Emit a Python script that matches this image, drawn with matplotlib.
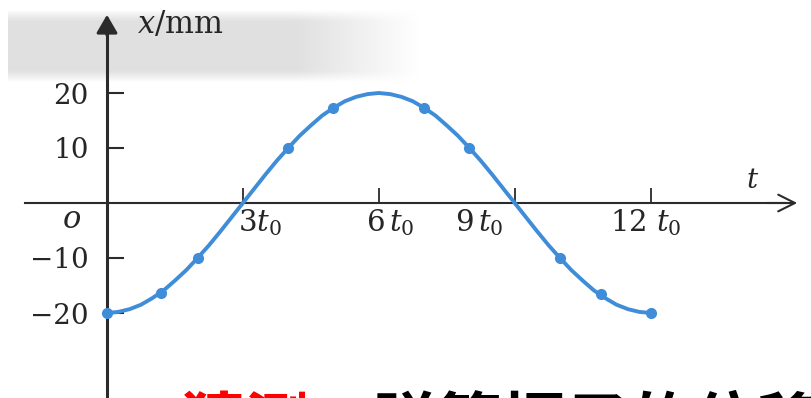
import numpy as np
import matplotlib
matplotlib.use("Agg")
import matplotlib.pyplot as plt

#### data ####
# displacement curve, t in units of t0, x in mm (read every quarter t0)
t_curve = [i * 0.25 for i in range(49)]
x_curve = [-20, -19.8, -19.3, -18.5, -17.3, -15.9, -14.1, -12.2,
           -10, -7.7, -5.2, -2.6, 0, 2.6, 5.2, 7.7,
           10, 12.2, 14.1, 15.9, 17.3, 18.5, 19.3, 19.8,
           20, 19.8, 19.3, 18.5, 17.3, 15.9, 14.1, 12.2,
           10, 7.7, 5.2, 2.6, 0, -2.6, -5.2, -7.7,
           -10, -12.2, -14.1, -15.9, -17.3, -18.5, -19.3, -19.8, -20]
# measured points
t_dots = [0, 1.2, 2, 4, 5, 7, 8, 10, 10.9, 12]
x_dots = [-20, -16.4, -10, 10, 17.3, 17.3, 10, -10, -16.5, -20]

y_ticks = [20, 10, -10, -20]
y_ticklabels = ["20", "10", "\u221210", "\u221220"]
x_ticks = [3, 6, 9, 12]
x_ticklabels = [r"$3t_0$", r"$6\,t_0$", r"$9\,t_0$", r"$12\ t_0$"]

#### style ####
matplotlib.rc('mathtext', fontset='dejavuserif')
matplotlib.rc('font', family='DejaVu Serif')
AX_COL = '#2b2b2b'
TXT_COL = '#262626'
LINE_COL = '#3f8dd8'
FS = 20

# pixel geometry of the original: origin at (107, 203), 45.3 px per t0, 5.5 px per mm
W, H = 812, 398
X0, SX = 107, 45.3
Y0, SY = 203, 5.5

fig = plt.figure(figsize=(W / 100, H / 100), dpi=100, facecolor='white')
ax = fig.add_axes([0, 0, 1, 1])
ax.set_xlim(-X0 / SX, (W - X0) / SX)
ax.set_ylim((Y0 - H) / SY, Y0 / SY)
ax.set_facecolor('white')

# grey scan shading at the top left
grad = np.ones((20, 200, 4))
grad[..., :3] = 0.88
fade_x = np.clip((1.0 - np.linspace(0, 1, 200)) / 0.3, 0, 1)
fade_y = np.clip(np.minimum(np.linspace(0, 1, 20), 1 - np.linspace(0, 1, 20)) / 0.15, 0, 1)
grad[..., 3] = np.outer(fade_y, fade_x)
ax.imshow(grad, extent=((8 - X0) / SX, (420 - X0) / SX, (Y0 - 84) / SY, (Y0 - 8) / SY),
          aspect='auto', zorder=0, interpolation='bilinear')

# axes through origin
for s in ['top', 'right']:
    ax.spines[s].set_visible(False)
ax.spines['left'].set_position(('data', 0))
ax.spines['bottom'].set_position(('data', 0))
ax.spines['left'].set_bounds((Y0 - H) / SY, 32.5)
ax.spines['bottom'].set_bounds((25 - X0) / SX, 15.0)
ax.spines['left'].set_linewidth(2.2)
ax.spines['bottom'].set_linewidth(1.5)
ax.spines['left'].set_color(AX_COL)
ax.spines['bottom'].set_color(AX_COL)

ax.set_yticks(y_ticks)
ax.set_yticklabels(y_ticklabels)
ax.tick_params(axis='y', direction='in', length=12, width=1.5, color=AX_COL,
               labelsize=FS, pad=13, labelcolor=TXT_COL)
ax.set_xticks(x_ticks)
ax.set_xticklabels([])
ax.tick_params(axis='x', direction='in', length=11, width=1.3, color=AX_COL)

# arrows
ax.annotate('', xy=(0, (Y0 - 12) / SY), xytext=(0, 30),
            arrowprops=dict(arrowstyle='-|>,head_length=0.55,head_width=0.32',
                            color=AX_COL, lw=2.2, mutation_scale=20))
ax.annotate('', xy=((800 - X0) / SX, 0), xytext=(14.5, 0),
            arrowprops=dict(arrowstyle='->,head_length=0.6,head_width=0.3',
                            color=AX_COL, lw=1.5, mutation_scale=20))

# x tick labels placed like the scan
label_left_px = [238, 366, 455, 610]
for px, lab in zip(label_left_px, x_ticklabels):
    ax.text((px - X0) / SX, (Y0 - 231) / SY, lab, ha='left', va='baseline',
            fontsize=FS + 1, color=TXT_COL)

ax.text((137 - X0) / SX, (Y0 - 24) / SY, r"$x$/mm", ha='left', va='center',
        fontsize=FS + 2, color=TXT_COL)
ax.text((72 - X0) / SX, (Y0 - 219) / SY, "o", ha='center', va='center',
        fontsize=FS + 2, style='italic', color=TXT_COL)
ax.text((752 - X0) / SX, (Y0 - 181) / SY, "t", ha='center', va='center',
        fontsize=FS, style='italic', color=TXT_COL)

# curve and points
ax.plot(t_curve, x_curve, color=LINE_COL, lw=2.8, solid_capstyle='round',
        solid_joinstyle='round', zorder=3)
ax.plot(t_dots, x_dots, 'o', color=LINE_COL, ms=7, zorder=4)

# caption, cut off at the bottom edge like the original
cap_y = (H - 445) / H
fig.text(182 / W, cap_y, "猜测", color='red', fontsize=46, fontweight='bold',
         family=['Noto Sans CJK SC', 'DejaVu Sans'], va='baseline', ha='left')
fig.text(310 / W, cap_y, "：弹簧振子的位移", color='black', fontsize=46, fontweight='bold',
         family=['Noto Sans CJK SC', 'DejaVu Sans'], va='baseline', ha='left')

fig.savefig('out.png', dpi=100, facecolor='white')
